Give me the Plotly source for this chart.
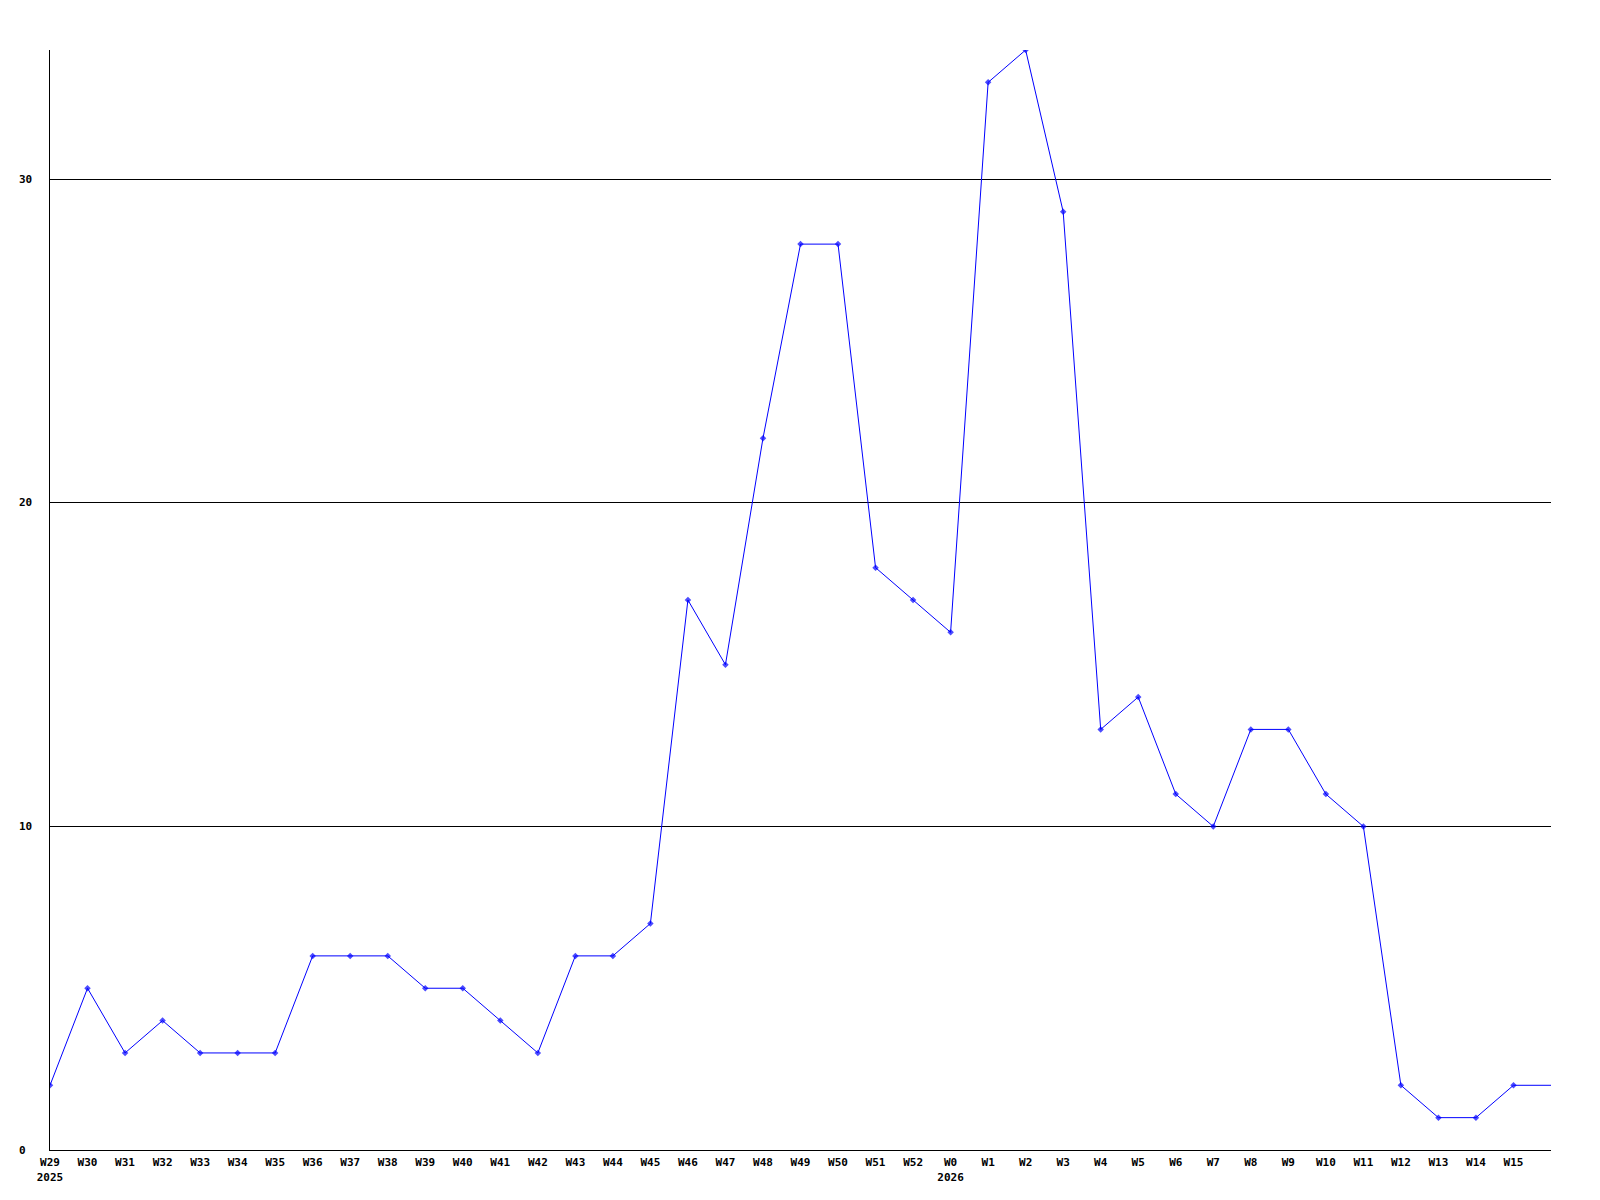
import plotly.graph_objects as go

weeks = ["W29", "W30", "W31", "W32", "W33", "W34", "W35", "W36", "W37", "W38",
         "W39", "W40", "W41", "W42", "W43", "W44", "W45", "W46", "W47", "W48",
         "W49", "W50", "W51", "W52", "W0", "W1", "W2", "W3", "W4", "W5",
         "W6", "W7", "W8", "W9", "W10", "W11", "W12", "W13", "W14", "W15", "W16"]
values = [2, 5, 3, 4, 3, 3, 3, 6, 6, 6,
          5, 5, 4, 3, 6, 6, 7, 17, 15, 22,
          28, 28, 18, 17, 16, 33, 34, 29, 13, 14,
          11, 10, 13, 13, 11, 10, 2, 1, 1, 2, 2]
year_labels = {"W29": "2025", "W0": "2026"}
labelled_weeks = weeks[:-1]  # the last (current) week is drawn without marker/label
y_ticks = [0, 10, 20, 30]

FONT = "DejaVu Sans Mono"

x_idx = list(range(len(weeks)))
marker_sizes = [5 if w in labelled_weeks else 0 for w in weeks]

ticktext = [f"<b>{w}</b>" + (f"<br><b>{year_labels[w]}</b>" if w in year_labels else "")
            for w in labelled_weeks]

fig = go.Figure()
fig.add_trace(go.Scatter(
    x=x_idx, y=values, mode="lines+markers",
    line=dict(color="#0000ff", width=1),
    marker=dict(color="#0000ff", size=marker_sizes, symbol="diamond", line=dict(width=0)),
    hoverinfo="skip", showlegend=False,
))

for v in y_ticks:
    fig.add_annotation(x=-0.022, xref="paper", y=v, yref="y", text=f"<b>{v}</b>",
                       showarrow=False, xanchor="left", yanchor="middle",
                       font=dict(family=FONT, size=11, color="black"))

fig.update_layout(
    width=1600, height=1200,
    margin=dict(l=42, r=57, t=42, b=58),
    plot_bgcolor="white", paper_bgcolor="white",
    font=dict(family=FONT, size=11, color="black"),
    xaxis=dict(
        range=[0, len(weeks) - 1],
        tickmode="array", tickvals=x_idx[:len(labelled_weeks)], ticktext=ticktext,
        showgrid=False, zeroline=False,
        showline=True, linecolor="black", linewidth=1,
        ticks="", ticklabelstandoff=2,
        tickfont=dict(family=FONT, size=11, color="black"),
    ),
    yaxis=dict(
        range=[0, 34],
        tickmode="array", tickvals=y_ticks, showticklabels=False,
        showgrid=True, gridcolor="black", gridwidth=1,
        zeroline=False, showline=True, linecolor="black", linewidth=1,
        ticks="",
    ),
)

fig.write_html("out.html")
